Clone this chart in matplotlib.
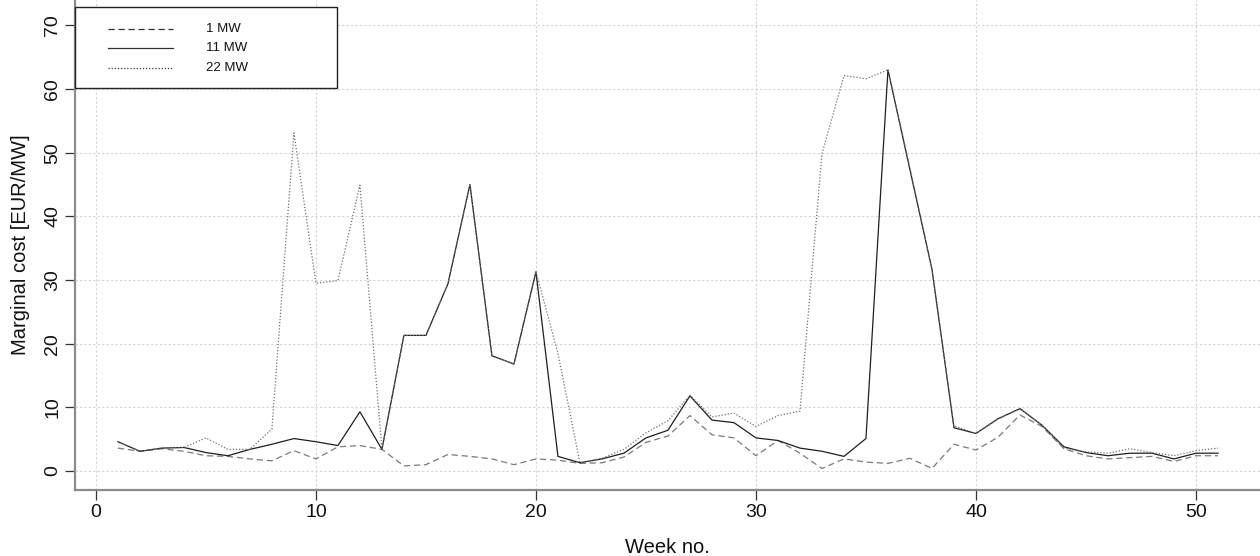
import numpy as np
import matplotlib
matplotlib.use("Agg")
import matplotlib.pyplot as plt
from matplotlib.patches import Rectangle

plt.rcParams['font.family'] = ['Liberation Sans', 'DejaVu Sans']

# weekly marginal cost for three reserve volumes
weeks = np.arange(1, 52)

cost_1mw = [3.6, 3.1, 3.5, 3.1, 2.4, 2.3, 1.9, 1.6, 3.2, 1.9,
            3.8, 4.0, 3.4, 0.8, 1.0, 2.6, 2.3, 1.9, 1.0, 1.9,
            1.7, 1.2, 1.3, 2.2, 4.5, 5.5, 8.7, 5.7, 5.2, 2.4,
            4.8, 2.8, 0.4, 1.9, 1.4, 1.2, 2.0, 0.4, 4.2, 3.3,
            5.3, 8.8, 7.0, 3.5, 2.4, 1.9, 2.1, 2.3, 1.5, 2.4,
            2.4]

cost_11mw = [4.6, 3.1, 3.6, 3.7, 2.9, 2.4, 3.4, 4.2, 5.1, 4.6,
             4.0, 9.3, 3.4, 21.3, 21.3, 29.4, 45.0, 18.1, 16.8, 31.3,
             2.3, 1.3, 1.9, 2.8, 5.2, 6.4, 11.8, 8.0, 7.6, 5.2,
             4.8, 3.6, 3.1, 2.3, 5.1, 63.0, 47.3, 31.7, 6.8, 5.9,
             8.2, 9.8, 7.2, 3.8, 2.9, 2.4, 2.8, 2.8, 1.9, 2.8,
             2.8]

cost_22mw = [4.6, 3.1, 3.6, 3.7, 5.2, 3.4, 3.4, 6.6, 53.1, 29.5,
             29.9, 44.9, 3.4, 21.3, 21.3, 29.4, 45.0, 18.1, 16.8, 31.3,
             18.5, 1.3, 2.0, 3.4, 6.0, 7.9, 11.9, 8.5, 9.1, 7.0,
             8.7, 9.4, 49.8, 62.1, 61.6, 63.0, 47.6, 31.6, 7.1, 5.9,
             8.2, 9.8, 7.2, 3.6, 3.0, 2.8, 3.5, 2.9, 2.4, 3.2,
             3.6]

series = [
    ("1 MW", cost_1mw, (0, (5, 3)), "#7a7a7a"),
    ("11 MW", cost_11mw, "-", "#1e1e1e"),
    ("22 MW", cost_22mw, (0, (1, 1.5)), "#707070"),
]

fig = plt.figure(figsize=(12.6, 5.56), dpi=100)
ax = fig.add_axes([75 / 1260, 66 / 556, 1185 / 1260, 490 / 556])

for label, vals, ls, col in series:
    ax.plot(weeks, vals, linestyle=ls, color=col, linewidth=0.9, zorder=3)

ax.set_xlim(-0.95, 52.91)
ax.set_ylim(-2.98, 73.97)
ax.set_xticks(np.arange(0, 51, 10))
ax.set_yticks(np.arange(0, 71, 10))
ax.grid(True, linestyle=(0, (2, 2)), color="#d4d4d4", linewidth=0.8, zorder=0)

for side in ("top", "right"):
    ax.spines[side].set_visible(False)
for side in ("left", "bottom"):
    ax.spines[side].set_color("#8c8c8c")
    ax.spines[side].set_linewidth(1.6)

ax.tick_params(axis="both", length=7, width=0.9, color="#333333",
               labelsize=14, labelcolor="#111111")
ax.tick_params(axis="x", pad=3)
ax.tick_params(axis="y", pad=3)
for t in ax.get_yticklabels():
    t.set_rotation(90)
    t.set_verticalalignment("center")

ax.set_xlabel("Week no.", fontsize=14.5, color="#111111", labelpad=12)
ax.set_ylabel("Marginal cost [EUR/MW]", fontsize=14.5, color="#111111", labelpad=10)

# boxed legend in the top left corner
box = Rectangle((0, 0.820), 0.221, 0.166, transform=ax.transAxes,
                fill=True, facecolor="white", edgecolor="#222222",
                linewidth=1.0, zorder=5, clip_on=False)
ax.add_patch(box)
rows = [0.941, 0.902, 0.861]
for (label, vals, ls, col), yr in zip(series, rows):
    ax.plot([0.0278, 0.0827], [yr, yr], transform=ax.transAxes,
            linestyle=ls, color="#333333", linewidth=0.9, zorder=6)
    ax.text(0.1105, yr, label, transform=ax.transAxes, fontsize=9.5,
            va="center", ha="left", color="#111111", zorder=6)

fig.savefig("out.png", dpi=100)
